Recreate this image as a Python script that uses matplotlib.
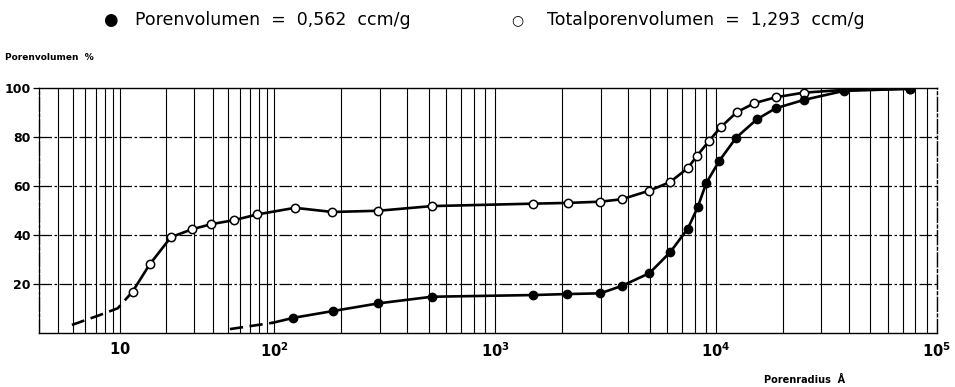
import numpy as np
import matplotlib
matplotlib.use("Agg")
import matplotlib.pyplot as plt

# ---- data ----
# Totalporenvolumen (open circles): radius in Angstrom, cumulative pore volume %
total_r = [12.1, 15.6, 21.4, 29.2, 38.9, 55.1, 77.6, 124, 183, 296, 516,
           1490, 2130, 2990, 3740, 4990, 6190, 7450, 8180, 9300, 10500,
           12400, 14900, 18600, 24900, 37800, 75700]
total_v = [16.9, 28.0, 39.1, 42.3, 44.4, 46.1, 48.4, 51.1, 49.4, 49.9, 51.8,
           52.8, 53.1, 53.6, 54.6, 58.1, 61.6, 67.3, 72.2, 78.4, 84.0,
           90.1, 93.8, 96.2, 98.1, 99.2, 99.7]
# extrapolated (dashed) start of the open curve
total_ext_r = [4.9, 7.4, 9.7, 12.1]
total_ext_v = [3.3, 7.3, 10.1, 16.9]

# Porenvolumen (filled circles)
pore_r = [122, 185, 296, 516, 1490, 2110, 2990, 3740, 4990, 6190, 7450,
          8260, 9020, 10350, 12330, 15300, 18600, 24900, 37800, 75700]
pore_v = [6.2, 9.0, 12.1, 14.8, 15.5, 15.9, 16.2, 19.2, 24.4, 32.9, 42.6,
          51.3, 61.1, 70.3, 79.7, 87.2, 91.7, 95.1, 98.8, 99.7]
pore_ext_r = [51.6, 98]
pore_ext_v = [1.6, 4.2]

y_ticks = [20, 40, 60, 80, 100]
x_major = [10, 100, 1e3, 1e4, 1e5]
x_major_labels = ["$\\mathbf{10}$", "$\\mathbf{10^{2}}$", "$\\mathbf{10^{3}}$",
                  "$\\mathbf{10^{4}}$", "$\\mathbf{10^{5}}$"]


# the scan has the first decades squeezed, so use a piecewise log scale
def fwd(x):
    L = np.log10(np.clip(x, 1e-6, None))
    return np.where(L < 2, 2 + (L - 2) * 0.7, L)


def inv(t):
    t = np.asarray(t, dtype=float)
    return np.where(t < 2, 10 ** (2 + (t - 2) / 0.7), 10 ** t)


fig = plt.figure(figsize=(9.55, 3.87), dpi=100)
ax = fig.add_axes([0.0408, 0.1395, 0.9402, 0.6331])
ax.set_xscale("function", functions=(fwd, inv))
ax.set_xlim(3, 1e5)
ax.set_ylim(0, 100)

# grid
minor = [m * 10 ** e for e in range(0, 5) for m in range(2, 10) if 3 <= m * 10 ** e < 1e5]
for xv in minor + x_major:
    ax.axvline(xv, color="black", lw=0.8, zorder=1)
for yv in y_ticks[:-1]:
    ax.axhline(yv, color="black", lw=0.9, ls=(0, (10, 2, 2, 2)), zorder=1)

# curves
lw = 1.9
ax.plot(total_ext_r, total_ext_v, color="black", lw=lw, ls=(0, (5, 2.5)), zorder=3)
ax.plot(total_r, total_v, color="black", lw=lw, zorder=3)
ax.plot(total_r, total_v, "o", ms=6, mfc="white", mec="black", mew=1.1, zorder=4)

ax.plot(pore_ext_r, pore_ext_v, color="black", lw=lw, ls=(0, (5, 2.5)), zorder=3)
ax.plot([pore_ext_r[-1]] + pore_r, [pore_ext_v[-1]] + pore_v, color="black", lw=lw, zorder=3)
ax.plot(pore_r, pore_v, "o", ms=6, mfc="black", mec="black", zorder=4)

# axes styling
ax.set_xticks(x_major)
ax.set_xticklabels(x_major_labels, fontsize=10.5)
ax.set_xticks(minor, minor=True)
ax.tick_params(axis="x", which="both", length=0, pad=6)
ax.set_yticks(y_ticks)
ax.set_yticklabels([str(v) for v in y_ticks], fontsize=9, fontweight="bold")
ax.tick_params(axis="y", length=4, width=0.9, pad=2)
for s in ax.spines.values():
    s.set_linewidth(1.0)
ax.spines["left"].set_linestyle((0, (10, 2, 2, 2)))
ax.spines["right"].set_linestyle((0, (10, 2, 2, 2)))

# texts
fig.text(5 / 955, 1 - 57 / 387, "Porenvolumen  %", fontsize=6.5, fontweight="bold",
         va="center", ha="left")
fig.text(805 / 955, 1 - 380 / 387, "Porenradius  Å", fontsize=7, fontweight="bold",
         va="center", ha="center")

fig.text(110 / 955, 1 - 20 / 387, "●", fontsize=12, va="center", ha="center")
fig.text(135 / 955, 1 - 20 / 387, "Porenvolumen  =  0,562  ccm/g", fontsize=12.5,
         va="center", ha="left")
fig.text(517 / 955, 1 - 20 / 387, "○", fontsize=10, va="center", ha="center")
fig.text(547 / 955, 1 - 20 / 387, "Totalporenvolumen  =  1,293  ccm/g", fontsize=12.5,
         va="center", ha="left")

fig.savefig("out.png", dpi=100)
